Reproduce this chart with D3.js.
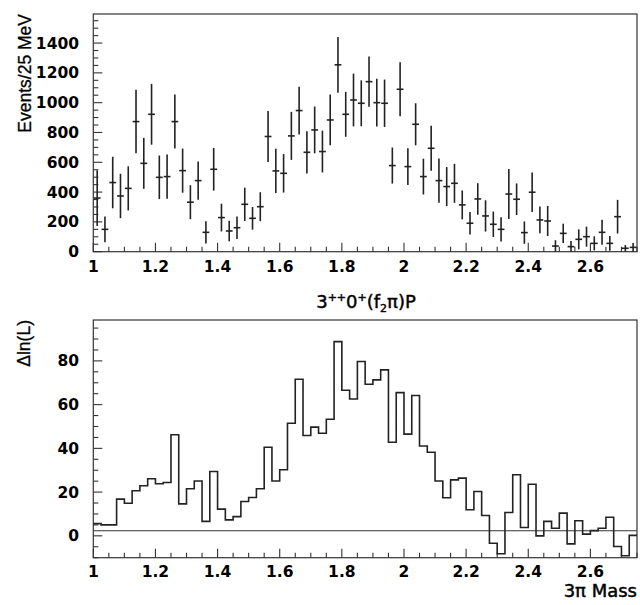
<!DOCTYPE html>
<html><head><meta charset="utf-8">
<script src="https://cdn.jsdelivr.net/npm/d3@7"></script>
<style>
body{margin:0;background:#fff;}
text{fill:#000;}
.tick{font-family:"DejaVu Sans",sans-serif;font-weight:bold;font-size:15.5px;}
.ttl{font-family:"Liberation Sans",Arial,sans-serif;font-size:17.5px;stroke:#000;stroke-width:0.3px;}
.xt{font-family:"DejaVu Sans",sans-serif;font-size:18px;stroke:#000;stroke-width:0.45px;}
</style></head>
<body><svg id="c" width="640" height="605"></svg>
<script>
// ---- data ----
const binStart = 1.0, binWidth = 0.025;
const events = [360,150,464,374,425,873,593,922,499,504,873,544,332,477,130,553,229,139,161,318,
  224,302,773,542,526,777,947,667,817,672,884,1254,922,1018,996,1141,1000,996,578,1090,
  571,855,504,694,477,437,459,314,191,354,240,184,150,387,352,128,399,213,206,38,
  123,34,83,101,56,130,56,235,23,29];
const eventErr = [187,87,173,149,148,213,171,204,146,148,181,148,114,129,75,143,93,69,76,112,
  76,97,171,148,129,161,160,142,157,140,170,187,151,177,154,168,160,159,121,181,
  123,141,120,151,148,131,131,97,76,106,105,85,82,168,106,75,133,90,101,39,
  65,37,67,67,47,84,50,113,22,30];
const dlnL = [5.6,5.0,5.0,16.8,14.9,20.6,22.9,26.1,23.8,24.4,46.2,14.6,21.5,25.1,6.6,29.4,12.2,7.3,8.8,15.7,
  17.5,21.5,40.5,25.1,30.2,51.5,71.6,45.9,49.7,46.9,53.3,88.8,66.6,62.6,79.7,69.3,71.3,75.9,42.8,65.5,
  46.5,64.2,41.1,38.2,25.1,17.4,25.6,26.4,11.9,20.3,9.3,-3.4,-8.2,10.7,27.9,3.8,23.6,0,6.6,3.5,
  10.4,-3.7,6.9,0.8,2.4,3.5,8.5,-4.9,-9.1,0.2];
const refLine = 2.3;
const xTicks = [1,1.2,1.4,1.6,1.8,2,2.2,2.4,2.6];
const yTicksTop = [0,200,400,600,800,1000,1200,1400];
const yTicksBot = [0,20,40,60,80];
const labels = {top:"Events/25 MeV", bot:"\u0394ln(L)", xBot:"3\u03c0 Mass"};

// ---- layout ----
const svg = d3.select("#c");
const L = 93.3, R = 637;
const x = d3.scaleLinear().domain([1, 2.75]).range([L, R]);
const yT = d3.scaleLinear().domain([0, 1595]).range([251.7, 14]);
const yB = d3.scaleLinear().domain([-10, 98.7]).range([557.7, 320]);
const ink = "#222";

function frame(y){
  const [b,t] = y.range();
  svg.append("rect").attr("x",L).attr("y",t).attr("width",R-L).attr("height",b-t)
    .attr("fill","none").attr("stroke","#333").attr("stroke-width",1.2);
}
function axes(y, majorY, minorStep, labelY){
  const [b,t] = y.range();
  const xMinor = d3.range(1, 2.7501, 0.05);
  const gx = svg.append("g");
  xMinor.forEach(v=>{
    const major = Math.abs(Math.round(v*5)-v*5)<1e-6;
    gx.append("line").attr("x1",x(v)).attr("x2",x(v)).attr("y1",b).attr("y2",b-(major?9:5))
      .attr("stroke","#333").attr("stroke-width",1.1);
  });
  xTicks.forEach(v=>{
    svg.append("text").attr("class","tick").attr("x",x(v)).attr("y",labelY).attr("text-anchor","middle")
      .text(d3.format("~g")(v));
  });
  const [d0,d1] = y.domain();
  const step = majorY[1]-majorY[0];
  const start = Math.ceil(d0/minorStep)*minorStep;
  for(let v=start; v<=d1+1e-9; v+=minorStep){
    const major = Math.abs(Math.round(v/step)*step - v) < 1e-6;
    svg.append("line").attr("x1",L).attr("x2",L+(major?9:5)).attr("y1",y(v)).attr("y2",y(v))
      .attr("stroke","#333").attr("stroke-width",1.1);
  }
  majorY.forEach(v=>{
    svg.append("text").attr("class","tick").attr("x",79).attr("y",y(v)).attr("dy","0.36em").attr("text-anchor","end")
      .text(v);
  });
}

// ---- top panel ----
frame(yT);
axes(yT, yTicksTop, 50, 271.5);
const gT = svg.append("g");
events.forEach((v,i)=>{
  const x0 = binStart + i*binWidth, xc = x0 + binWidth/2;
  const lo = Math.max(0, v - eventErr[i]), hi = v + eventErr[i];
  gT.append("line").attr("x1",x(xc)).attr("x2",x(xc)).attr("y1",yT(lo)).attr("y2",yT(hi))
    .attr("stroke",ink).attr("stroke-width",1.6);
  gT.append("line").attr("x1",x(x0)+0.5).attr("x2",x(x0+binWidth)-0.5).attr("y1",yT(v)).attr("y2",yT(v))
    .attr("stroke",ink).attr("stroke-width",1.6);
});
svg.append("text").attr("class","ttl").attr("transform","translate(31,14) rotate(-90)").attr("text-anchor","end")
  .text(labels.top);
const tl = svg.append("text").attr("class","xt").attr("x",366).attr("y",308).attr("text-anchor","middle");
tl.append("tspan").text("3");
tl.append("tspan").attr("font-size",11).attr("dy",-7).text("++");
tl.append("tspan").attr("dy",7).text("0");
tl.append("tspan").attr("font-size",11).attr("dy",-7).text("+");
tl.append("tspan").attr("dy",7).text("(f");
tl.append("tspan").attr("font-size",11).attr("dy",4).text("2");
tl.append("tspan").attr("dy",-4).text("\u03c0)P");

// ---- bottom panel ----
frame(yB);
axes(yB, yTicksBot, 5, 577);
svg.append("line").attr("x1",L).attr("x2",R).attr("y1",yB(refLine)).attr("y2",yB(refLine))
  .attr("stroke","#333").attr("stroke-width",1.1);
const pts = [];
dlnL.forEach((v,i)=>{
  const x0 = binStart + i*binWidth;
  pts.push([x(x0), yB(v)]);
  pts.push([x(x0+binWidth), yB(v)]);
});
svg.append("path").attr("d", d3.line()(pts)).attr("fill","none").attr("stroke",ink).attr("stroke-width",1.6);
svg.append("text").attr("class","ttl").attr("transform","translate(30,320) rotate(-90)").attr("text-anchor","end")
  .text(labels.bot);
svg.append("text").attr("class","xt").attr("x",637).attr("y",597).attr("text-anchor","end").text(labels.xBot);
</script></body></html>
